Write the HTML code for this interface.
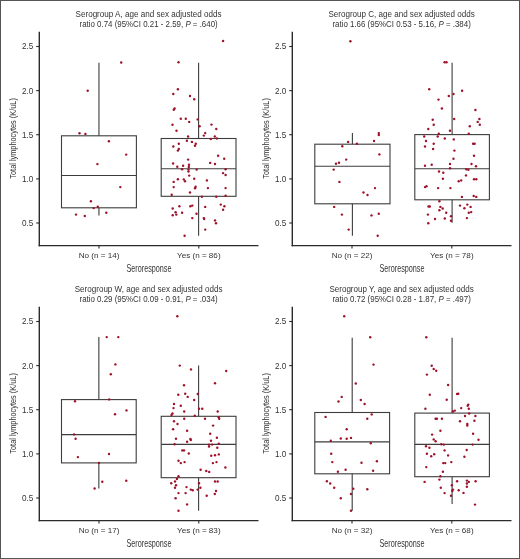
<!DOCTYPE html><html><head><meta charset="utf-8"><style>html,body{margin:0;padding:0;background:#fff;}svg{display:block;will-change:transform;}</style></head><body>
<svg width="520" height="559" viewBox="0 0 520 559" font-family='"Liberation Sans", sans-serif'>
<rect x="0" y="0" width="520" height="559" fill="#fff"/>
<text x="148.6" y="16.7" font-size="8.6" fill="#333" text-anchor="middle" textLength="146.1" lengthAdjust="spacingAndGlyphs">Serogroup A, age and sex adjusted odds</text>
<text x="148.6" y="26.5" font-size="8.6" fill="#333" text-anchor="middle" textLength="138.2" lengthAdjust="spacingAndGlyphs">ratio 0.74 (95%CI 0.21 - 2.59, <tspan font-style="italic">P</tspan> = .640)</text>
<line x1="98.95" y1="62.7" x2="98.95" y2="135.8" stroke="#3d3d3d" stroke-width="1.1"/>
<line x1="98.95" y1="207.8" x2="98.95" y2="215.6" stroke="#3d3d3d" stroke-width="1.1"/>
<rect x="61.5" y="135.8" width="74.9" height="72.0" fill="none" stroke="#3d3d3d" stroke-width="1.1"/>
<line x1="61.5" y1="175.5" x2="136.4" y2="175.5" stroke="#3d3d3d" stroke-width="1.1"/>
<line x1="198.6" y1="62.7" x2="198.6" y2="138.5" stroke="#3d3d3d" stroke-width="1.1"/>
<line x1="198.6" y1="196.3" x2="198.6" y2="235.8" stroke="#3d3d3d" stroke-width="1.1"/>
<rect x="161.2" y="138.5" width="74.80000000000001" height="57.80000000000001" fill="none" stroke="#3d3d3d" stroke-width="1.1"/>
<line x1="161.2" y1="168.8" x2="236.0" y2="168.8" stroke="#3d3d3d" stroke-width="1.1"/>
<line x1="39.3" y1="31.7" x2="39.3" y2="246.29999999999998" stroke="#2b2b2b" stroke-width="1.4"/>
<line x1="38.599999999999994" y1="245.6" x2="258.5" y2="245.6" stroke="#2b2b2b" stroke-width="1.4"/>
<line x1="36.2" y1="46.5" x2="39.3" y2="46.5" stroke="#2b2b2b" stroke-width="1.1"/>
<text x="33.3" y="49.4" font-size="8.7" fill="#333" text-anchor="end" textLength="11.3" lengthAdjust="spacingAndGlyphs">2.5</text>
<line x1="36.2" y1="90.6" x2="39.3" y2="90.6" stroke="#2b2b2b" stroke-width="1.1"/>
<text x="33.3" y="93.5" font-size="8.7" fill="#333" text-anchor="end" textLength="11.3" lengthAdjust="spacingAndGlyphs">2.0</text>
<line x1="36.2" y1="134.7" x2="39.3" y2="134.7" stroke="#2b2b2b" stroke-width="1.1"/>
<text x="33.3" y="137.6" font-size="8.7" fill="#333" text-anchor="end" textLength="11.3" lengthAdjust="spacingAndGlyphs">1.5</text>
<line x1="36.2" y1="178.9" x2="39.3" y2="178.9" stroke="#2b2b2b" stroke-width="1.1"/>
<text x="33.3" y="181.8" font-size="8.7" fill="#333" text-anchor="end" textLength="11.3" lengthAdjust="spacingAndGlyphs">1.0</text>
<line x1="36.2" y1="223.0" x2="39.3" y2="223.0" stroke="#2b2b2b" stroke-width="1.1"/>
<text x="33.3" y="225.9" font-size="8.7" fill="#333" text-anchor="end" textLength="11.3" lengthAdjust="spacingAndGlyphs">0.5</text>
<line x1="99.0" y1="245.6" x2="99.0" y2="248.4" stroke="#2b2b2b" stroke-width="1.1"/>
<text x="99.0" y="258.4" font-size="8.1" fill="#333" text-anchor="middle">No (n = 14)</text>
<line x1="198.8" y1="245.6" x2="198.8" y2="248.4" stroke="#2b2b2b" stroke-width="1.1"/>
<text x="198.8" y="258.4" font-size="8.1" fill="#333" text-anchor="middle">Yes (n = 86)</text>
<text x="149" y="271.6" font-size="10.3" fill="#333" text-anchor="middle" textLength="45" lengthAdjust="spacingAndGlyphs">Seroresponse</text>
<text transform="translate(16.2,138.4) rotate(-90)" x="0" y="0" font-size="9.7" fill="#333" text-anchor="middle" textLength="80.5" lengthAdjust="spacingAndGlyphs">Total lymphocytes (K/uL)</text>
<text x="401.6" y="16.7" font-size="8.6" fill="#333" text-anchor="middle" textLength="146.3" lengthAdjust="spacingAndGlyphs">Serogroup C, age and sex adjusted odds</text>
<text x="401.6" y="26.5" font-size="8.6" fill="#333" text-anchor="middle" textLength="138.4" lengthAdjust="spacingAndGlyphs">ratio 1.66 (95%CI 0.53 - 5.16, <tspan font-style="italic">P</tspan> = .384)</text>
<line x1="352.4" y1="133.1" x2="352.4" y2="144.2" stroke="#3d3d3d" stroke-width="1.1"/>
<line x1="352.4" y1="203.8" x2="352.4" y2="235.8" stroke="#3d3d3d" stroke-width="1.1"/>
<rect x="314.8" y="144.2" width="75.19999999999999" height="59.60000000000002" fill="none" stroke="#3d3d3d" stroke-width="1.1"/>
<line x1="314.8" y1="166.3" x2="390.0" y2="166.3" stroke="#3d3d3d" stroke-width="1.1"/>
<line x1="452.1" y1="62.7" x2="452.1" y2="134.6" stroke="#3d3d3d" stroke-width="1.1"/>
<line x1="452.1" y1="199.8" x2="452.1" y2="222.7" stroke="#3d3d3d" stroke-width="1.1"/>
<rect x="414.8" y="134.6" width="74.59999999999997" height="65.20000000000002" fill="none" stroke="#3d3d3d" stroke-width="1.1"/>
<line x1="414.8" y1="168.8" x2="489.4" y2="168.8" stroke="#3d3d3d" stroke-width="1.1"/>
<line x1="292.3" y1="31.7" x2="292.3" y2="246.29999999999998" stroke="#2b2b2b" stroke-width="1.4"/>
<line x1="291.6" y1="245.6" x2="511.5" y2="245.6" stroke="#2b2b2b" stroke-width="1.4"/>
<line x1="289.2" y1="46.5" x2="292.3" y2="46.5" stroke="#2b2b2b" stroke-width="1.1"/>
<text x="286.3" y="49.4" font-size="8.7" fill="#333" text-anchor="end" textLength="11.3" lengthAdjust="spacingAndGlyphs">2.5</text>
<line x1="289.2" y1="90.6" x2="292.3" y2="90.6" stroke="#2b2b2b" stroke-width="1.1"/>
<text x="286.3" y="93.5" font-size="8.7" fill="#333" text-anchor="end" textLength="11.3" lengthAdjust="spacingAndGlyphs">2.0</text>
<line x1="289.2" y1="134.7" x2="292.3" y2="134.7" stroke="#2b2b2b" stroke-width="1.1"/>
<text x="286.3" y="137.6" font-size="8.7" fill="#333" text-anchor="end" textLength="11.3" lengthAdjust="spacingAndGlyphs">1.5</text>
<line x1="289.2" y1="178.9" x2="292.3" y2="178.9" stroke="#2b2b2b" stroke-width="1.1"/>
<text x="286.3" y="181.8" font-size="8.7" fill="#333" text-anchor="end" textLength="11.3" lengthAdjust="spacingAndGlyphs">1.0</text>
<line x1="289.2" y1="223.0" x2="292.3" y2="223.0" stroke="#2b2b2b" stroke-width="1.1"/>
<text x="286.3" y="225.9" font-size="8.7" fill="#333" text-anchor="end" textLength="11.3" lengthAdjust="spacingAndGlyphs">0.5</text>
<line x1="352.0" y1="245.6" x2="352.0" y2="248.4" stroke="#2b2b2b" stroke-width="1.1"/>
<text x="352.0" y="258.4" font-size="8.1" fill="#333" text-anchor="middle">No (n = 22)</text>
<line x1="451.8" y1="245.6" x2="451.8" y2="248.4" stroke="#2b2b2b" stroke-width="1.1"/>
<text x="451.8" y="258.4" font-size="8.1" fill="#333" text-anchor="middle">Yes (n = 78)</text>
<text x="402" y="271.6" font-size="10.3" fill="#333" text-anchor="middle" textLength="45" lengthAdjust="spacingAndGlyphs">Seroresponse</text>
<text transform="translate(269.2,138.4) rotate(-90)" x="0" y="0" font-size="9.7" fill="#333" text-anchor="middle" textLength="80.5" lengthAdjust="spacingAndGlyphs">Total lymphocytes (K/uL)</text>
<text x="148.6" y="291.7" font-size="8.6" fill="#333" text-anchor="middle" textLength="147.7" lengthAdjust="spacingAndGlyphs">Serogroup W, age and sex adjusted odds</text>
<text x="148.6" y="301.5" font-size="8.6" fill="#333" text-anchor="middle" textLength="138.2" lengthAdjust="spacingAndGlyphs">ratio 0.29 (95%CI 0.09 - 0.91, <tspan font-style="italic">P</tspan> = .034)</text>
<line x1="98.85" y1="337.1" x2="98.85" y2="399.6" stroke="#3d3d3d" stroke-width="1.1"/>
<line x1="98.85" y1="462.9" x2="98.85" y2="488.5" stroke="#3d3d3d" stroke-width="1.1"/>
<rect x="61.5" y="399.6" width="74.69999999999999" height="63.299999999999955" fill="none" stroke="#3d3d3d" stroke-width="1.1"/>
<line x1="61.5" y1="434.6" x2="136.2" y2="434.6" stroke="#3d3d3d" stroke-width="1.1"/>
<line x1="198.6" y1="365.6" x2="198.6" y2="416.3" stroke="#3d3d3d" stroke-width="1.1"/>
<line x1="198.6" y1="477.7" x2="198.6" y2="510.8" stroke="#3d3d3d" stroke-width="1.1"/>
<rect x="161.2" y="416.3" width="74.80000000000001" height="61.39999999999998" fill="none" stroke="#3d3d3d" stroke-width="1.1"/>
<line x1="161.2" y1="444.4" x2="236.0" y2="444.4" stroke="#3d3d3d" stroke-width="1.1"/>
<line x1="39.3" y1="306.7" x2="39.3" y2="521.3000000000001" stroke="#2b2b2b" stroke-width="1.4"/>
<line x1="38.599999999999994" y1="520.6" x2="258.5" y2="520.6" stroke="#2b2b2b" stroke-width="1.4"/>
<line x1="36.2" y1="321.5" x2="39.3" y2="321.5" stroke="#2b2b2b" stroke-width="1.1"/>
<text x="33.3" y="324.4" font-size="8.7" fill="#333" text-anchor="end" textLength="11.3" lengthAdjust="spacingAndGlyphs">2.5</text>
<line x1="36.2" y1="365.6" x2="39.3" y2="365.6" stroke="#2b2b2b" stroke-width="1.1"/>
<text x="33.3" y="368.5" font-size="8.7" fill="#333" text-anchor="end" textLength="11.3" lengthAdjust="spacingAndGlyphs">2.0</text>
<line x1="36.2" y1="409.7" x2="39.3" y2="409.7" stroke="#2b2b2b" stroke-width="1.1"/>
<text x="33.3" y="412.59999999999997" font-size="8.7" fill="#333" text-anchor="end" textLength="11.3" lengthAdjust="spacingAndGlyphs">1.5</text>
<line x1="36.2" y1="453.9" x2="39.3" y2="453.9" stroke="#2b2b2b" stroke-width="1.1"/>
<text x="33.3" y="456.79999999999995" font-size="8.7" fill="#333" text-anchor="end" textLength="11.3" lengthAdjust="spacingAndGlyphs">1.0</text>
<line x1="36.2" y1="498.0" x2="39.3" y2="498.0" stroke="#2b2b2b" stroke-width="1.1"/>
<text x="33.3" y="500.9" font-size="8.7" fill="#333" text-anchor="end" textLength="11.3" lengthAdjust="spacingAndGlyphs">0.5</text>
<line x1="99.0" y1="520.6" x2="99.0" y2="523.4" stroke="#2b2b2b" stroke-width="1.1"/>
<text x="99.0" y="533.4" font-size="8.1" fill="#333" text-anchor="middle">No (n = 17)</text>
<line x1="198.8" y1="520.6" x2="198.8" y2="523.4" stroke="#2b2b2b" stroke-width="1.1"/>
<text x="198.8" y="533.4" font-size="8.1" fill="#333" text-anchor="middle">Yes (n = 83)</text>
<text x="149" y="546.6" font-size="10.3" fill="#333" text-anchor="middle" textLength="45" lengthAdjust="spacingAndGlyphs">Seroresponse</text>
<text transform="translate(16.2,413.4) rotate(-90)" x="0" y="0" font-size="9.7" fill="#333" text-anchor="middle" textLength="80.5" lengthAdjust="spacingAndGlyphs">Total lymphocytes (K/uL)</text>
<text x="401.6" y="291.7" font-size="8.6" fill="#333" text-anchor="middle" textLength="144.3" lengthAdjust="spacingAndGlyphs">Serogroup Y, age and sex adjusted odds</text>
<text x="401.6" y="301.5" font-size="8.6" fill="#333" text-anchor="middle" textLength="138.4" lengthAdjust="spacingAndGlyphs">ratio 0.72 (95%CI 0.28 - 1.87, <tspan font-style="italic">P</tspan> = .497)</text>
<line x1="352.20000000000005" y1="337.7" x2="352.20000000000005" y2="412.5" stroke="#3d3d3d" stroke-width="1.1"/>
<line x1="352.20000000000005" y1="473.8" x2="352.20000000000005" y2="510.8" stroke="#3d3d3d" stroke-width="1.1"/>
<rect x="314.8" y="412.5" width="74.80000000000001" height="61.30000000000001" fill="none" stroke="#3d3d3d" stroke-width="1.1"/>
<line x1="314.8" y1="441.9" x2="389.6" y2="441.9" stroke="#3d3d3d" stroke-width="1.1"/>
<line x1="452.1" y1="337.7" x2="452.1" y2="413.1" stroke="#3d3d3d" stroke-width="1.1"/>
<line x1="452.1" y1="476.7" x2="452.1" y2="504.0" stroke="#3d3d3d" stroke-width="1.1"/>
<rect x="414.8" y="413.1" width="74.59999999999997" height="63.599999999999966" fill="none" stroke="#3d3d3d" stroke-width="1.1"/>
<line x1="414.8" y1="444.4" x2="489.4" y2="444.4" stroke="#3d3d3d" stroke-width="1.1"/>
<line x1="292.3" y1="306.7" x2="292.3" y2="521.3000000000001" stroke="#2b2b2b" stroke-width="1.4"/>
<line x1="291.6" y1="520.6" x2="511.5" y2="520.6" stroke="#2b2b2b" stroke-width="1.4"/>
<line x1="289.2" y1="321.5" x2="292.3" y2="321.5" stroke="#2b2b2b" stroke-width="1.1"/>
<text x="286.3" y="324.4" font-size="8.7" fill="#333" text-anchor="end" textLength="11.3" lengthAdjust="spacingAndGlyphs">2.5</text>
<line x1="289.2" y1="365.6" x2="292.3" y2="365.6" stroke="#2b2b2b" stroke-width="1.1"/>
<text x="286.3" y="368.5" font-size="8.7" fill="#333" text-anchor="end" textLength="11.3" lengthAdjust="spacingAndGlyphs">2.0</text>
<line x1="289.2" y1="409.7" x2="292.3" y2="409.7" stroke="#2b2b2b" stroke-width="1.1"/>
<text x="286.3" y="412.59999999999997" font-size="8.7" fill="#333" text-anchor="end" textLength="11.3" lengthAdjust="spacingAndGlyphs">1.5</text>
<line x1="289.2" y1="453.9" x2="292.3" y2="453.9" stroke="#2b2b2b" stroke-width="1.1"/>
<text x="286.3" y="456.79999999999995" font-size="8.7" fill="#333" text-anchor="end" textLength="11.3" lengthAdjust="spacingAndGlyphs">1.0</text>
<line x1="289.2" y1="498.0" x2="292.3" y2="498.0" stroke="#2b2b2b" stroke-width="1.1"/>
<text x="286.3" y="500.9" font-size="8.7" fill="#333" text-anchor="end" textLength="11.3" lengthAdjust="spacingAndGlyphs">0.5</text>
<line x1="352.0" y1="520.6" x2="352.0" y2="523.4" stroke="#2b2b2b" stroke-width="1.1"/>
<text x="352.0" y="533.4" font-size="8.1" fill="#333" text-anchor="middle">No (n = 32)</text>
<line x1="451.8" y1="520.6" x2="451.8" y2="523.4" stroke="#2b2b2b" stroke-width="1.1"/>
<text x="451.8" y="533.4" font-size="8.1" fill="#333" text-anchor="middle">Yes (n = 68)</text>
<text x="402" y="546.6" font-size="10.3" fill="#333" text-anchor="middle" textLength="45" lengthAdjust="spacingAndGlyphs">Seroresponse</text>
<text transform="translate(269.2,413.4) rotate(-90)" x="0" y="0" font-size="9.7" fill="#333" text-anchor="middle" textLength="80.5" lengthAdjust="spacingAndGlyphs">Total lymphocytes (K/uL)</text>
<circle cx="79.5" cy="133.3" r="1.2" fill="#9e1129"/>
<circle cx="85.4" cy="133.9" r="1.2" fill="#9e1129"/>
<circle cx="108.9" cy="141.2" r="1.2" fill="#9e1129"/>
<circle cx="126.2" cy="154.6" r="1.2" fill="#9e1129"/>
<circle cx="97.4" cy="164.1" r="1.2" fill="#9e1129"/>
<circle cx="120.3" cy="187.1" r="1.2" fill="#9e1129"/>
<circle cx="90.9" cy="201.3" r="1.2" fill="#9e1129"/>
<circle cx="97.8" cy="206.8" r="1.2" fill="#9e1129"/>
<circle cx="93.7" cy="208.1" r="1.2" fill="#9e1129"/>
<circle cx="106.3" cy="212.7" r="1.2" fill="#9e1129"/>
<circle cx="76" cy="214.6" r="1.2" fill="#9e1129"/>
<circle cx="84.8" cy="216" r="1.2" fill="#9e1129"/>
<circle cx="121.2" cy="62.5" r="1.2" fill="#9e1129"/>
<circle cx="87.7" cy="90.8" r="1.2" fill="#9e1129"/>
<circle cx="223.1" cy="41" r="1.2" fill="#9e1129"/>
<circle cx="178.5" cy="62.3" r="1.2" fill="#9e1129"/>
<circle cx="177.9" cy="89.2" r="1.2" fill="#9e1129"/>
<circle cx="173.3" cy="94" r="1.2" fill="#9e1129"/>
<circle cx="190" cy="96" r="1.2" fill="#9e1129"/>
<circle cx="194.2" cy="99.2" r="1.2" fill="#9e1129"/>
<circle cx="174.6" cy="108.5" r="1.2" fill="#9e1129"/>
<circle cx="173.8" cy="109.8" r="1.2" fill="#9e1129"/>
<circle cx="180.8" cy="118.8" r="1.2" fill="#9e1129"/>
<circle cx="185.8" cy="118.8" r="1.2" fill="#9e1129"/>
<circle cx="189.2" cy="121.9" r="1.2" fill="#9e1129"/>
<circle cx="197.7" cy="119.4" r="1.2" fill="#9e1129"/>
<circle cx="172.5" cy="124.8" r="1.2" fill="#9e1129"/>
<circle cx="199.6" cy="126.2" r="1.2" fill="#9e1129"/>
<circle cx="211.5" cy="124.6" r="1.2" fill="#9e1129"/>
<circle cx="216.3" cy="129" r="1.2" fill="#9e1129"/>
<circle cx="176.5" cy="130.8" r="1.2" fill="#9e1129"/>
<circle cx="205.2" cy="133.1" r="1.2" fill="#9e1129"/>
<circle cx="203.8" cy="135.6" r="1.2" fill="#9e1129"/>
<circle cx="188.1" cy="136.5" r="1.2" fill="#9e1129"/>
<circle cx="214.8" cy="136.5" r="1.2" fill="#9e1129"/>
<circle cx="216.9" cy="138.5" r="1.2" fill="#9e1129"/>
<circle cx="210.8" cy="139" r="1.2" fill="#9e1129"/>
<circle cx="186.9" cy="140.8" r="1.2" fill="#9e1129"/>
<circle cx="191.9" cy="141.9" r="1.2" fill="#9e1129"/>
<circle cx="178.8" cy="143.7" r="1.2" fill="#9e1129"/>
<circle cx="195.8" cy="143.8" r="1.2" fill="#9e1129"/>
<circle cx="195" cy="145.8" r="1.2" fill="#9e1129"/>
<circle cx="173.3" cy="146.5" r="1.2" fill="#9e1129"/>
<circle cx="178.8" cy="149" r="1.2" fill="#9e1129"/>
<circle cx="177.9" cy="150.6" r="1.2" fill="#9e1129"/>
<circle cx="218.1" cy="155.8" r="1.2" fill="#9e1129"/>
<circle cx="224.2" cy="158.8" r="1.2" fill="#9e1129"/>
<circle cx="188.1" cy="159.6" r="1.2" fill="#9e1129"/>
<circle cx="173.1" cy="163.5" r="1.2" fill="#9e1129"/>
<circle cx="210.2" cy="162.9" r="1.2" fill="#9e1129"/>
<circle cx="215" cy="164" r="1.2" fill="#9e1129"/>
<circle cx="189" cy="164.8" r="1.2" fill="#9e1129"/>
<circle cx="183.1" cy="165.8" r="1.2" fill="#9e1129"/>
<circle cx="177.3" cy="166.7" r="1.2" fill="#9e1129"/>
<circle cx="188.8" cy="166.9" r="1.2" fill="#9e1129"/>
<circle cx="182.1" cy="169.2" r="1.2" fill="#9e1129"/>
<circle cx="188.5" cy="169.6" r="1.2" fill="#9e1129"/>
<circle cx="196.7" cy="169.6" r="1.2" fill="#9e1129"/>
<circle cx="225.6" cy="169.2" r="1.2" fill="#9e1129"/>
<circle cx="188.5" cy="171.5" r="1.2" fill="#9e1129"/>
<circle cx="223.1" cy="173.1" r="1.2" fill="#9e1129"/>
<circle cx="225.6" cy="175" r="1.2" fill="#9e1129"/>
<circle cx="189.2" cy="175.6" r="1.2" fill="#9e1129"/>
<circle cx="177.9" cy="179.2" r="1.2" fill="#9e1129"/>
<circle cx="183.8" cy="179.4" r="1.2" fill="#9e1129"/>
<circle cx="194.2" cy="178.8" r="1.2" fill="#9e1129"/>
<circle cx="185" cy="181.2" r="1.2" fill="#9e1129"/>
<circle cx="206.9" cy="180.4" r="1.2" fill="#9e1129"/>
<circle cx="173.7" cy="181.9" r="1.2" fill="#9e1129"/>
<circle cx="173.7" cy="187.1" r="1.2" fill="#9e1129"/>
<circle cx="195.6" cy="186.7" r="1.2" fill="#9e1129"/>
<circle cx="195" cy="188.3" r="1.2" fill="#9e1129"/>
<circle cx="207.9" cy="188.1" r="1.2" fill="#9e1129"/>
<circle cx="225.6" cy="188.1" r="1.2" fill="#9e1129"/>
<circle cx="190" cy="192.5" r="1.2" fill="#9e1129"/>
<circle cx="171.7" cy="194.8" r="1.2" fill="#9e1129"/>
<circle cx="201.9" cy="196.7" r="1.2" fill="#9e1129"/>
<circle cx="216.3" cy="196.7" r="1.2" fill="#9e1129"/>
<circle cx="225.6" cy="195.8" r="1.2" fill="#9e1129"/>
<circle cx="179.4" cy="206.3" r="1.2" fill="#9e1129"/>
<circle cx="190.4" cy="206.3" r="1.2" fill="#9e1129"/>
<circle cx="192.3" cy="205.6" r="1.2" fill="#9e1129"/>
<circle cx="205.2" cy="206.9" r="1.2" fill="#9e1129"/>
<circle cx="220.8" cy="204.6" r="1.2" fill="#9e1129"/>
<circle cx="224.4" cy="206.3" r="1.2" fill="#9e1129"/>
<circle cx="172.7" cy="208.5" r="1.2" fill="#9e1129"/>
<circle cx="223.1" cy="209.8" r="1.2" fill="#9e1129"/>
<circle cx="175.6" cy="212.3" r="1.2" fill="#9e1129"/>
<circle cx="176.3" cy="214.6" r="1.2" fill="#9e1129"/>
<circle cx="182.1" cy="212.7" r="1.2" fill="#9e1129"/>
<circle cx="172.7" cy="215.2" r="1.2" fill="#9e1129"/>
<circle cx="196.5" cy="213.7" r="1.2" fill="#9e1129"/>
<circle cx="192.3" cy="218.1" r="1.2" fill="#9e1129"/>
<circle cx="203.8" cy="218.1" r="1.2" fill="#9e1129"/>
<circle cx="204.2" cy="219" r="1.2" fill="#9e1129"/>
<circle cx="215" cy="220.4" r="1.2" fill="#9e1129"/>
<circle cx="216" cy="223.3" r="1.2" fill="#9e1129"/>
<circle cx="205.2" cy="229.6" r="1.2" fill="#9e1129"/>
<circle cx="184.6" cy="235.8" r="1.2" fill="#9e1129"/>
<circle cx="350.4" cy="41.2" r="1.2" fill="#9e1129"/>
<circle cx="378.8" cy="133.1" r="1.2" fill="#9e1129"/>
<circle cx="378.8" cy="135" r="1.2" fill="#9e1129"/>
<circle cx="374" cy="141" r="1.2" fill="#9e1129"/>
<circle cx="348.1" cy="141.9" r="1.2" fill="#9e1129"/>
<circle cx="356.9" cy="143.7" r="1.2" fill="#9e1129"/>
<circle cx="342.3" cy="146.2" r="1.2" fill="#9e1129"/>
<circle cx="379.4" cy="154.4" r="1.2" fill="#9e1129"/>
<circle cx="346.2" cy="159.6" r="1.2" fill="#9e1129"/>
<circle cx="339" cy="162.7" r="1.2" fill="#9e1129"/>
<circle cx="336" cy="163.7" r="1.2" fill="#9e1129"/>
<circle cx="333.7" cy="169.6" r="1.2" fill="#9e1129"/>
<circle cx="339.4" cy="181.9" r="1.2" fill="#9e1129"/>
<circle cx="375" cy="188.1" r="1.2" fill="#9e1129"/>
<circle cx="363.5" cy="192.5" r="1.2" fill="#9e1129"/>
<circle cx="367.5" cy="195" r="1.2" fill="#9e1129"/>
<circle cx="334.2" cy="206.9" r="1.2" fill="#9e1129"/>
<circle cx="341.9" cy="214.6" r="1.2" fill="#9e1129"/>
<circle cx="371.5" cy="215.4" r="1.2" fill="#9e1129"/>
<circle cx="378.8" cy="213.8" r="1.2" fill="#9e1129"/>
<circle cx="348.7" cy="229.6" r="1.2" fill="#9e1129"/>
<circle cx="377.7" cy="235.8" r="1.2" fill="#9e1129"/>
<circle cx="444.6" cy="62.3" r="1.2" fill="#9e1129"/>
<circle cx="446.5" cy="62.3" r="1.2" fill="#9e1129"/>
<circle cx="429.2" cy="89.2" r="1.2" fill="#9e1129"/>
<circle cx="462.1" cy="90.8" r="1.2" fill="#9e1129"/>
<circle cx="453.5" cy="94" r="1.2" fill="#9e1129"/>
<circle cx="448.8" cy="96" r="1.2" fill="#9e1129"/>
<circle cx="438.5" cy="99.6" r="1.2" fill="#9e1129"/>
<circle cx="441.9" cy="108.5" r="1.2" fill="#9e1129"/>
<circle cx="475.4" cy="110" r="1.2" fill="#9e1129"/>
<circle cx="432.7" cy="119.8" r="1.2" fill="#9e1129"/>
<circle cx="454.2" cy="119" r="1.2" fill="#9e1129"/>
<circle cx="479.4" cy="119" r="1.2" fill="#9e1129"/>
<circle cx="477.7" cy="121.9" r="1.2" fill="#9e1129"/>
<circle cx="433.7" cy="124.8" r="1.2" fill="#9e1129"/>
<circle cx="479.8" cy="124.8" r="1.2" fill="#9e1129"/>
<circle cx="469.8" cy="126.2" r="1.2" fill="#9e1129"/>
<circle cx="428.3" cy="129" r="1.2" fill="#9e1129"/>
<circle cx="450" cy="130.8" r="1.2" fill="#9e1129"/>
<circle cx="438.8" cy="133.7" r="1.2" fill="#9e1129"/>
<circle cx="468.8" cy="133.7" r="1.2" fill="#9e1129"/>
<circle cx="437.7" cy="136.5" r="1.2" fill="#9e1129"/>
<circle cx="424.2" cy="136.5" r="1.2" fill="#9e1129"/>
<circle cx="444.8" cy="138.5" r="1.2" fill="#9e1129"/>
<circle cx="453.8" cy="139.4" r="1.2" fill="#9e1129"/>
<circle cx="426" cy="141" r="1.2" fill="#9e1129"/>
<circle cx="433.7" cy="143.7" r="1.2" fill="#9e1129"/>
<circle cx="473.1" cy="143.7" r="1.2" fill="#9e1129"/>
<circle cx="474.6" cy="143.7" r="1.2" fill="#9e1129"/>
<circle cx="425" cy="146.5" r="1.2" fill="#9e1129"/>
<circle cx="433.1" cy="149" r="1.2" fill="#9e1129"/>
<circle cx="454.4" cy="150.6" r="1.2" fill="#9e1129"/>
<circle cx="474" cy="155.8" r="1.2" fill="#9e1129"/>
<circle cx="453.5" cy="158.8" r="1.2" fill="#9e1129"/>
<circle cx="425" cy="165.8" r="1.2" fill="#9e1129"/>
<circle cx="431.7" cy="164.8" r="1.2" fill="#9e1129"/>
<circle cx="450" cy="164" r="1.2" fill="#9e1129"/>
<circle cx="471.5" cy="164" r="1.2" fill="#9e1129"/>
<circle cx="476" cy="166.3" r="1.2" fill="#9e1129"/>
<circle cx="450" cy="168.3" r="1.2" fill="#9e1129"/>
<circle cx="466.3" cy="169.2" r="1.2" fill="#9e1129"/>
<circle cx="468.4" cy="169.8" r="1.2" fill="#9e1129"/>
<circle cx="439" cy="171.5" r="1.2" fill="#9e1129"/>
<circle cx="443.3" cy="172.7" r="1.2" fill="#9e1129"/>
<circle cx="466" cy="175.4" r="1.2" fill="#9e1129"/>
<circle cx="442.9" cy="178.8" r="1.2" fill="#9e1129"/>
<circle cx="474" cy="179.2" r="1.2" fill="#9e1129"/>
<circle cx="476.3" cy="179.2" r="1.2" fill="#9e1129"/>
<circle cx="458.7" cy="181.2" r="1.2" fill="#9e1129"/>
<circle cx="461.2" cy="180.4" r="1.2" fill="#9e1129"/>
<circle cx="425" cy="187.1" r="1.2" fill="#9e1129"/>
<circle cx="426.5" cy="186.3" r="1.2" fill="#9e1129"/>
<circle cx="438.1" cy="188.1" r="1.2" fill="#9e1129"/>
<circle cx="450.4" cy="188.1" r="1.2" fill="#9e1129"/>
<circle cx="461.9" cy="196.9" r="1.2" fill="#9e1129"/>
<circle cx="473.7" cy="196" r="1.2" fill="#9e1129"/>
<circle cx="476.3" cy="196.9" r="1.2" fill="#9e1129"/>
<circle cx="439.4" cy="201.2" r="1.2" fill="#9e1129"/>
<circle cx="428.5" cy="206.5" r="1.2" fill="#9e1129"/>
<circle cx="429.8" cy="206.5" r="1.2" fill="#9e1129"/>
<circle cx="440.4" cy="206.9" r="1.2" fill="#9e1129"/>
<circle cx="442.7" cy="208.5" r="1.2" fill="#9e1129"/>
<circle cx="439.4" cy="210.2" r="1.2" fill="#9e1129"/>
<circle cx="460" cy="205.6" r="1.2" fill="#9e1129"/>
<circle cx="467.3" cy="204.6" r="1.2" fill="#9e1129"/>
<circle cx="470.6" cy="206.9" r="1.2" fill="#9e1129"/>
<circle cx="464.4" cy="208.3" r="1.2" fill="#9e1129"/>
<circle cx="446.2" cy="212.7" r="1.2" fill="#9e1129"/>
<circle cx="468.8" cy="212.7" r="1.2" fill="#9e1129"/>
<circle cx="471.2" cy="212.1" r="1.2" fill="#9e1129"/>
<circle cx="427.9" cy="214.6" r="1.2" fill="#9e1129"/>
<circle cx="451" cy="216.2" r="1.2" fill="#9e1129"/>
<circle cx="435" cy="219" r="1.2" fill="#9e1129"/>
<circle cx="444.8" cy="218.5" r="1.2" fill="#9e1129"/>
<circle cx="466.9" cy="218.1" r="1.2" fill="#9e1129"/>
<circle cx="451" cy="220.8" r="1.2" fill="#9e1129"/>
<circle cx="428.3" cy="223.3" r="1.2" fill="#9e1129"/>
<circle cx="106.7" cy="337.1" r="1.2" fill="#9e1129"/>
<circle cx="118.3" cy="337.1" r="1.2" fill="#9e1129"/>
<circle cx="115.4" cy="364.4" r="1.2" fill="#9e1129"/>
<circle cx="110.8" cy="374.2" r="1.2" fill="#9e1129"/>
<circle cx="109.2" cy="399.4" r="1.2" fill="#9e1129"/>
<circle cx="75" cy="401.2" r="1.2" fill="#9e1129"/>
<circle cx="126.5" cy="410.4" r="1.2" fill="#9e1129"/>
<circle cx="115" cy="414.2" r="1.2" fill="#9e1129"/>
<circle cx="74" cy="434.4" r="1.2" fill="#9e1129"/>
<circle cx="75.6" cy="438.7" r="1.2" fill="#9e1129"/>
<circle cx="109" cy="454" r="1.2" fill="#9e1129"/>
<circle cx="77.9" cy="457.1" r="1.2" fill="#9e1129"/>
<circle cx="99" cy="462.9" r="1.2" fill="#9e1129"/>
<circle cx="102.3" cy="481.7" r="1.2" fill="#9e1129"/>
<circle cx="126.3" cy="480.8" r="1.2" fill="#9e1129"/>
<circle cx="94.6" cy="488.5" r="1.2" fill="#9e1129"/>
<circle cx="177.3" cy="316.2" r="1.2" fill="#9e1129"/>
<circle cx="179.8" cy="365.6" r="1.2" fill="#9e1129"/>
<circle cx="191" cy="369.4" r="1.2" fill="#9e1129"/>
<circle cx="226.2" cy="371" r="1.2" fill="#9e1129"/>
<circle cx="215" cy="383.3" r="1.2" fill="#9e1129"/>
<circle cx="184" cy="385.2" r="1.2" fill="#9e1129"/>
<circle cx="178.3" cy="394.8" r="1.2" fill="#9e1129"/>
<circle cx="185.2" cy="393.8" r="1.2" fill="#9e1129"/>
<circle cx="187.7" cy="396.9" r="1.2" fill="#9e1129"/>
<circle cx="197.7" cy="394" r="1.2" fill="#9e1129"/>
<circle cx="194.2" cy="400" r="1.2" fill="#9e1129"/>
<circle cx="174" cy="404" r="1.2" fill="#9e1129"/>
<circle cx="180.8" cy="405.8" r="1.2" fill="#9e1129"/>
<circle cx="173.5" cy="408.1" r="1.2" fill="#9e1129"/>
<circle cx="199" cy="408.7" r="1.2" fill="#9e1129"/>
<circle cx="202.3" cy="408.7" r="1.2" fill="#9e1129"/>
<circle cx="184.2" cy="411.5" r="1.2" fill="#9e1129"/>
<circle cx="217.7" cy="411.5" r="1.2" fill="#9e1129"/>
<circle cx="172.5" cy="413.5" r="1.2" fill="#9e1129"/>
<circle cx="171.5" cy="415" r="1.2" fill="#9e1129"/>
<circle cx="194.8" cy="415.8" r="1.2" fill="#9e1129"/>
<circle cx="184.2" cy="418.7" r="1.2" fill="#9e1129"/>
<circle cx="205" cy="418.7" r="1.2" fill="#9e1129"/>
<circle cx="218.7" cy="417.3" r="1.2" fill="#9e1129"/>
<circle cx="219.2" cy="418.7" r="1.2" fill="#9e1129"/>
<circle cx="174" cy="421.2" r="1.2" fill="#9e1129"/>
<circle cx="177.5" cy="424" r="1.2" fill="#9e1129"/>
<circle cx="213.1" cy="425.6" r="1.2" fill="#9e1129"/>
<circle cx="173.1" cy="429.2" r="1.2" fill="#9e1129"/>
<circle cx="187.1" cy="430.8" r="1.2" fill="#9e1129"/>
<circle cx="210.2" cy="433.7" r="1.2" fill="#9e1129"/>
<circle cx="176" cy="438.8" r="1.2" fill="#9e1129"/>
<circle cx="190.4" cy="439" r="1.2" fill="#9e1129"/>
<circle cx="190.8" cy="440" r="1.2" fill="#9e1129"/>
<circle cx="187.1" cy="441.7" r="1.2" fill="#9e1129"/>
<circle cx="216.9" cy="437.7" r="1.2" fill="#9e1129"/>
<circle cx="211" cy="440.8" r="1.2" fill="#9e1129"/>
<circle cx="218.8" cy="443.7" r="1.2" fill="#9e1129"/>
<circle cx="174.6" cy="444.2" r="1.2" fill="#9e1129"/>
<circle cx="209" cy="444.6" r="1.2" fill="#9e1129"/>
<circle cx="212.1" cy="444.6" r="1.2" fill="#9e1129"/>
<circle cx="209" cy="446.5" r="1.2" fill="#9e1129"/>
<circle cx="217.3" cy="447.7" r="1.2" fill="#9e1129"/>
<circle cx="182.3" cy="450.4" r="1.2" fill="#9e1129"/>
<circle cx="184" cy="450.4" r="1.2" fill="#9e1129"/>
<circle cx="188.8" cy="453.5" r="1.2" fill="#9e1129"/>
<circle cx="211.2" cy="455.8" r="1.2" fill="#9e1129"/>
<circle cx="215" cy="455.2" r="1.2" fill="#9e1129"/>
<circle cx="218.8" cy="454.4" r="1.2" fill="#9e1129"/>
<circle cx="178.5" cy="460.8" r="1.2" fill="#9e1129"/>
<circle cx="180.8" cy="463.1" r="1.2" fill="#9e1129"/>
<circle cx="184.6" cy="462.1" r="1.2" fill="#9e1129"/>
<circle cx="212.9" cy="463.1" r="1.2" fill="#9e1129"/>
<circle cx="216.5" cy="462.1" r="1.2" fill="#9e1129"/>
<circle cx="225.4" cy="467.5" r="1.2" fill="#9e1129"/>
<circle cx="200.6" cy="469.8" r="1.2" fill="#9e1129"/>
<circle cx="206.3" cy="471" r="1.2" fill="#9e1129"/>
<circle cx="209.2" cy="471.9" r="1.2" fill="#9e1129"/>
<circle cx="178.5" cy="476.2" r="1.2" fill="#9e1129"/>
<circle cx="176.9" cy="479" r="1.2" fill="#9e1129"/>
<circle cx="175" cy="481.5" r="1.2" fill="#9e1129"/>
<circle cx="215" cy="481.5" r="1.2" fill="#9e1129"/>
<circle cx="217.7" cy="481.5" r="1.2" fill="#9e1129"/>
<circle cx="171.2" cy="483.3" r="1.2" fill="#9e1129"/>
<circle cx="199" cy="483.3" r="1.2" fill="#9e1129"/>
<circle cx="176" cy="485.2" r="1.2" fill="#9e1129"/>
<circle cx="175" cy="487.7" r="1.2" fill="#9e1129"/>
<circle cx="186.5" cy="487.1" r="1.2" fill="#9e1129"/>
<circle cx="200.4" cy="487.7" r="1.2" fill="#9e1129"/>
<circle cx="190.8" cy="489.6" r="1.2" fill="#9e1129"/>
<circle cx="192.7" cy="490.2" r="1.2" fill="#9e1129"/>
<circle cx="197.7" cy="489.6" r="1.2" fill="#9e1129"/>
<circle cx="216" cy="491" r="1.2" fill="#9e1129"/>
<circle cx="178.5" cy="493.1" r="1.2" fill="#9e1129"/>
<circle cx="185.6" cy="493.1" r="1.2" fill="#9e1129"/>
<circle cx="214.8" cy="494" r="1.2" fill="#9e1129"/>
<circle cx="206.7" cy="495.8" r="1.2" fill="#9e1129"/>
<circle cx="175.6" cy="498.3" r="1.2" fill="#9e1129"/>
<circle cx="187.1" cy="504.4" r="1.2" fill="#9e1129"/>
<circle cx="178.5" cy="510.8" r="1.2" fill="#9e1129"/>
<circle cx="344.2" cy="316.2" r="1.2" fill="#9e1129"/>
<circle cx="370.2" cy="337.3" r="1.2" fill="#9e1129"/>
<circle cx="373.5" cy="364.6" r="1.2" fill="#9e1129"/>
<circle cx="355.8" cy="383.5" r="1.2" fill="#9e1129"/>
<circle cx="341.7" cy="396.9" r="1.2" fill="#9e1129"/>
<circle cx="338.5" cy="401.5" r="1.2" fill="#9e1129"/>
<circle cx="360.8" cy="400" r="1.2" fill="#9e1129"/>
<circle cx="364.6" cy="404" r="1.2" fill="#9e1129"/>
<circle cx="371.7" cy="414.4" r="1.2" fill="#9e1129"/>
<circle cx="325.6" cy="416.9" r="1.2" fill="#9e1129"/>
<circle cx="367.3" cy="418.7" r="1.2" fill="#9e1129"/>
<circle cx="346.7" cy="429.2" r="1.2" fill="#9e1129"/>
<circle cx="351" cy="437.9" r="1.2" fill="#9e1129"/>
<circle cx="340.8" cy="438.5" r="1.2" fill="#9e1129"/>
<circle cx="346.7" cy="438.8" r="1.2" fill="#9e1129"/>
<circle cx="330.8" cy="440.8" r="1.2" fill="#9e1129"/>
<circle cx="370.8" cy="443.3" r="1.2" fill="#9e1129"/>
<circle cx="331.2" cy="453.8" r="1.2" fill="#9e1129"/>
<circle cx="332.3" cy="462.1" r="1.2" fill="#9e1129"/>
<circle cx="361.5" cy="462.7" r="1.2" fill="#9e1129"/>
<circle cx="376.9" cy="461.2" r="1.2" fill="#9e1129"/>
<circle cx="345.6" cy="469.8" r="1.2" fill="#9e1129"/>
<circle cx="337.9" cy="471.7" r="1.2" fill="#9e1129"/>
<circle cx="373.1" cy="470.8" r="1.2" fill="#9e1129"/>
<circle cx="326.9" cy="481.3" r="1.2" fill="#9e1129"/>
<circle cx="330.2" cy="483.5" r="1.2" fill="#9e1129"/>
<circle cx="334.2" cy="487.7" r="1.2" fill="#9e1129"/>
<circle cx="353.3" cy="488.7" r="1.2" fill="#9e1129"/>
<circle cx="367.3" cy="489.2" r="1.2" fill="#9e1129"/>
<circle cx="351" cy="494" r="1.2" fill="#9e1129"/>
<circle cx="340.8" cy="498.3" r="1.2" fill="#9e1129"/>
<circle cx="351" cy="510.8" r="1.2" fill="#9e1129"/>
<circle cx="426.3" cy="337.3" r="1.2" fill="#9e1129"/>
<circle cx="431.7" cy="365.8" r="1.2" fill="#9e1129"/>
<circle cx="433.7" cy="369" r="1.2" fill="#9e1129"/>
<circle cx="436.2" cy="370.8" r="1.2" fill="#9e1129"/>
<circle cx="426.9" cy="374.6" r="1.2" fill="#9e1129"/>
<circle cx="448.1" cy="385" r="1.2" fill="#9e1129"/>
<circle cx="429.8" cy="394.8" r="1.2" fill="#9e1129"/>
<circle cx="457.1" cy="394" r="1.2" fill="#9e1129"/>
<circle cx="458.3" cy="393.8" r="1.2" fill="#9e1129"/>
<circle cx="446.7" cy="399.8" r="1.2" fill="#9e1129"/>
<circle cx="468.3" cy="404.6" r="1.2" fill="#9e1129"/>
<circle cx="425.4" cy="408.7" r="1.2" fill="#9e1129"/>
<circle cx="467.7" cy="405.8" r="1.2" fill="#9e1129"/>
<circle cx="461.2" cy="408.1" r="1.2" fill="#9e1129"/>
<circle cx="468.8" cy="408.7" r="1.2" fill="#9e1129"/>
<circle cx="452.9" cy="411.5" r="1.2" fill="#9e1129"/>
<circle cx="454.8" cy="410.6" r="1.2" fill="#9e1129"/>
<circle cx="469.2" cy="413.5" r="1.2" fill="#9e1129"/>
<circle cx="465" cy="416" r="1.2" fill="#9e1129"/>
<circle cx="475.4" cy="416" r="1.2" fill="#9e1129"/>
<circle cx="435.6" cy="418.7" r="1.2" fill="#9e1129"/>
<circle cx="441.9" cy="418.7" r="1.2" fill="#9e1129"/>
<circle cx="436.9" cy="418.7" r="1.2" fill="#9e1129"/>
<circle cx="460" cy="421.2" r="1.2" fill="#9e1129"/>
<circle cx="474.4" cy="420.8" r="1.2" fill="#9e1129"/>
<circle cx="467.3" cy="424" r="1.2" fill="#9e1129"/>
<circle cx="467.3" cy="425.6" r="1.2" fill="#9e1129"/>
<circle cx="440.4" cy="430.8" r="1.2" fill="#9e1129"/>
<circle cx="473.1" cy="433.7" r="1.2" fill="#9e1129"/>
<circle cx="432.1" cy="434.6" r="1.2" fill="#9e1129"/>
<circle cx="433.7" cy="439.4" r="1.2" fill="#9e1129"/>
<circle cx="435.6" cy="441.3" r="1.2" fill="#9e1129"/>
<circle cx="478.5" cy="439.8" r="1.2" fill="#9e1129"/>
<circle cx="441.3" cy="444.2" r="1.2" fill="#9e1129"/>
<circle cx="443.8" cy="444.6" r="1.2" fill="#9e1129"/>
<circle cx="472.7" cy="444.6" r="1.2" fill="#9e1129"/>
<circle cx="426" cy="446.2" r="1.2" fill="#9e1129"/>
<circle cx="429.4" cy="447.7" r="1.2" fill="#9e1129"/>
<circle cx="466.7" cy="450" r="1.2" fill="#9e1129"/>
<circle cx="444.6" cy="450.4" r="1.2" fill="#9e1129"/>
<circle cx="426.9" cy="453.8" r="1.2" fill="#9e1129"/>
<circle cx="434.2" cy="454.2" r="1.2" fill="#9e1129"/>
<circle cx="431.2" cy="456.2" r="1.2" fill="#9e1129"/>
<circle cx="448.1" cy="455.4" r="1.2" fill="#9e1129"/>
<circle cx="464.4" cy="456.7" r="1.2" fill="#9e1129"/>
<circle cx="443.3" cy="463.1" r="1.2" fill="#9e1129"/>
<circle cx="445.2" cy="463.1" r="1.2" fill="#9e1129"/>
<circle cx="451.3" cy="462.1" r="1.2" fill="#9e1129"/>
<circle cx="426.3" cy="467.1" r="1.2" fill="#9e1129"/>
<circle cx="442.9" cy="471.7" r="1.2" fill="#9e1129"/>
<circle cx="440.4" cy="476.2" r="1.2" fill="#9e1129"/>
<circle cx="439.4" cy="479.6" r="1.2" fill="#9e1129"/>
<circle cx="424.6" cy="481.9" r="1.2" fill="#9e1129"/>
<circle cx="457.1" cy="481.3" r="1.2" fill="#9e1129"/>
<circle cx="466.9" cy="480.6" r="1.2" fill="#9e1129"/>
<circle cx="468.8" cy="481.9" r="1.2" fill="#9e1129"/>
<circle cx="466.9" cy="483.5" r="1.2" fill="#9e1129"/>
<circle cx="475.6" cy="481.3" r="1.2" fill="#9e1129"/>
<circle cx="451.9" cy="485.2" r="1.2" fill="#9e1129"/>
<circle cx="440.8" cy="487.7" r="1.2" fill="#9e1129"/>
<circle cx="466.9" cy="486.7" r="1.2" fill="#9e1129"/>
<circle cx="452.9" cy="489.6" r="1.2" fill="#9e1129"/>
<circle cx="452.3" cy="491" r="1.2" fill="#9e1129"/>
<circle cx="458.7" cy="490.2" r="1.2" fill="#9e1129"/>
<circle cx="444.6" cy="493.1" r="1.2" fill="#9e1129"/>
<circle cx="463.5" cy="492.9" r="1.2" fill="#9e1129"/>
<circle cx="451" cy="495.8" r="1.2" fill="#9e1129"/>
<circle cx="475" cy="504.6" r="1.2" fill="#9e1129"/>
<rect x="0.5" y="0.5" width="519" height="558" fill="none" stroke="#555" stroke-width="1"/>
</svg></body></html>
